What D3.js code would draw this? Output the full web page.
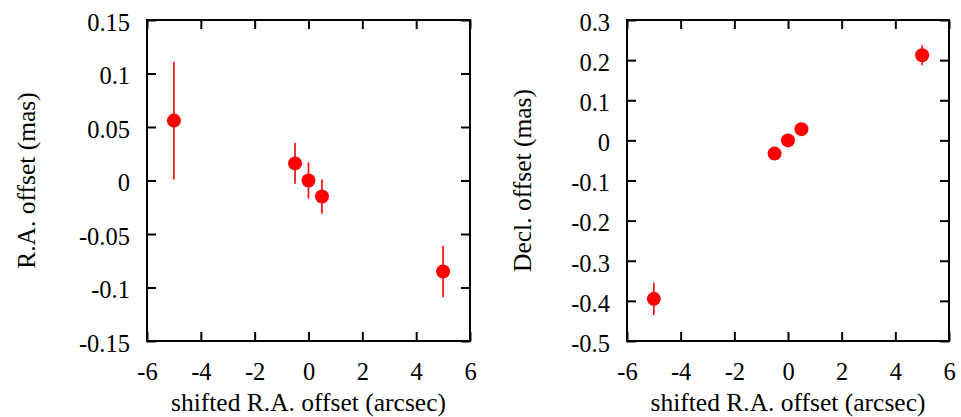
<!DOCTYPE html>
<html>
<head>
<meta charset="utf-8">
<script src="https://cdn.jsdelivr.net/npm/d3@7"></script>
<style>
  body { margin: 0; background: #fff; }
</style>
</head>
<body>
<svg id="chart" width="961" height="417"></svg>
<script>
// shifted R.A. offset (arcsec) for each point
const shift = [-5, -0.5, 0, 0.5, 5];

// left panel: R.A. offset (mas) and its error
const raOffset = [0.056, 0.016, 0, -0.015, -0.085];
const raErr = [0.055, 0.019, 0.017, 0.016, 0.024];

// right panel: Decl. offset (mas) and its error
const decOffset = [-0.395, -0.033, 0, 0.028, 0.212];
const decErr = [0.04, 0.007, 0.005, 0.005, 0.025];

const xTicks = [-6, -4, -2, 0, 2, 4, 6];
const raTicks = [-0.15, -0.1, -0.05, 0, 0.05, 0.1, 0.15];
const decTicks = [-0.5, -0.4, -0.3, -0.2, -0.1, 0, 0.1, 0.2, 0.3];

const FONT = "'Liberation Serif', 'Times New Roman', serif";
const svg = d3.select('#chart');
const plotTop = 20, plotBottom = 341, tickLen = 9;

function drawPanel(left, right, yDomain, yTicks, values, errs, yLabel, labelX) {
  const x = d3.scaleLinear().domain([-6, 6]).range([left, right]);
  const y = d3.scaleLinear().domain(yDomain).range([plotBottom, plotTop]);
  const g = svg.append('g');

  const fmt = d => String(d);

  // axes with inward ticks on all four sides
  g.append('g')
    .attr('transform', `translate(0,${plotBottom})`)
    .call(d3.axisBottom(x).tickValues(xTicks).tickSize(-tickLen).tickPadding(22).tickFormat(fmt));
  g.append('g')
    .attr('transform', `translate(0,${plotTop})`)
    .call(d3.axisTop(x).tickValues(xTicks).tickSize(-tickLen).tickFormat(''));
  const yAxis = g.append('g')
    .attr('transform', `translate(${left},0)`)
    .call(d3.axisLeft(y).tickValues(yTicks).tickSize(-tickLen).tickPadding(17).tickFormat(fmt));
  g.append('g')
    .attr('transform', `translate(${right},0)`)
    .call(d3.axisRight(y).tickValues(yTicks).tickSize(-tickLen).tickFormat(''));

  g.selectAll('.domain').remove();
  // d3 axis sets its own font on each axis group
  g.selectAll('g').attr('font-family', FONT).attr('font-size', 24.5);
  g.selectAll('.tick line').attr('stroke', '#000').attr('stroke-width', 2);
  g.selectAll('.tick text').attr('fill', '#000');
  yAxis.selectAll('.tick text').attr('dy', '0.42em');

  // frame
  g.append('rect')
    .attr('x', left).attr('y', plotTop)
    .attr('width', right - left).attr('height', plotBottom - plotTop)
    .attr('fill', 'none').attr('stroke', '#000').attr('stroke-width', 2);

  // error bars
  g.selectAll('line.err')
    .data(shift)
    .enter()
    .append('line')
    .attr('class', 'err')
    .attr('x1', d => x(d))
    .attr('x2', d => x(d))
    .attr('y1', (d, i) => y(values[i] + errs[i]))
    .attr('y2', (d, i) => y(values[i] - errs[i]))
    .attr('stroke', '#ff0000')
    .attr('stroke-width', 1.6);

  // points
  g.selectAll('circle')
    .data(shift)
    .enter()
    .append('circle')
    .attr('cx', d => x(d))
    .attr('cy', (d, i) => y(values[i]))
    .attr('r', 7)
    .attr('fill', '#ff0000');

  // axis labels
  g.append('text')
    .attr('x', (left + right) / 2)
    .attr('y', 411)
    .attr('text-anchor', 'middle')
    .attr('font-family', FONT)
    .attr('font-size', 25.5)
    .text('shifted R.A. offset (arcsec)');

  g.append('text')
    .attr('transform', `translate(${labelX},${(plotTop + plotBottom) / 2}) rotate(-90)`)
    .attr('text-anchor', 'middle')
    .attr('font-family', FONT)
    .attr('font-size', 25.5)
    .text(yLabel);
}

drawPanel(147, 470, [-0.15, 0.15], raTicks, raOffset, raErr, 'R.A. offset (mas)', 35);
drawPanel(627, 949, [-0.5, 0.3], decTicks, decOffset, decErr, 'Decl. offset (mas)', 531);
</script>
</body>
</html>
